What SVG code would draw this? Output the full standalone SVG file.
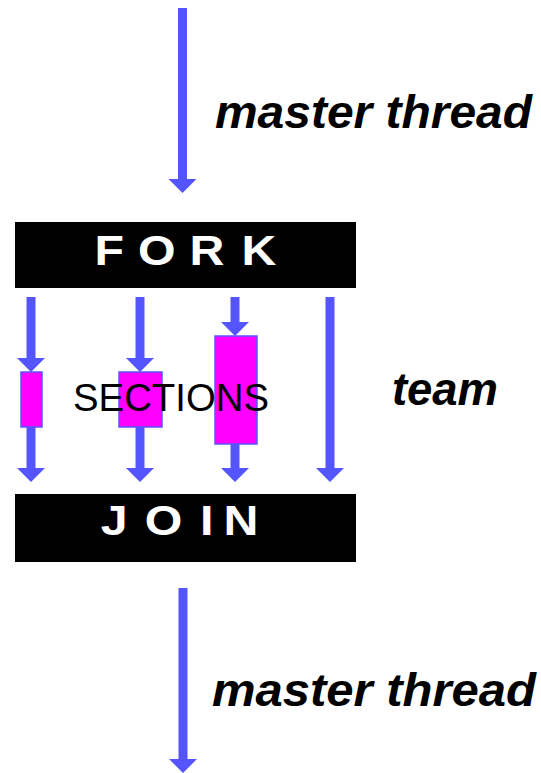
<svg xmlns="http://www.w3.org/2000/svg" width="541" height="773" viewBox="0 0 541 773">
  <style>
    .flow { stroke: #5555ff; stroke-width: 9; fill: none; marker-end: url(#head); }
    .bar { fill: #000000; }
    .bar-label { fill: #ffffff; font-family: "Liberation Sans", Arial, sans-serif; font-weight: bold; font-size: 42px; }
    .task { fill: #ff00ff; stroke: #5555ff; stroke-width: 1.5; }
    .note { fill: #000000; font-family: "Liberation Sans", Arial, sans-serif; font-weight: bold; font-style: italic; font-size: 46px; }
    .plain { fill: #000000; font-family: "Liberation Sans", Arial, sans-serif; font-size: 38px; }
  </style>
  <defs>
    <marker id="head" markerUnits="userSpaceOnUse" viewBox="0 0 14 28" refX="0" refY="14" markerWidth="14" markerHeight="28" orient="auto">
      <path d="M0,0 L14,14 L0,28 Z" fill="#5555ff"/>
    </marker>
  </defs>

  <rect width="541" height="773" fill="#ffffff"/>

  <!-- thread lines -->
  <g id="connectors">
    <path class="flow" d="M182.5,8 V179"/>
    <path class="flow" d="M31,297 V358"/>
    <path class="flow" d="M31,427 V468"/>
    <path class="flow" d="M140,297 V358"/>
    <path class="flow" d="M140,427 V468"/>
    <path class="flow" d="M235,297 V322"/>
    <path class="flow" d="M235,444 V468"/>
    <path class="flow" d="M330,297 V468"/>
    <path class="flow" d="M183,588 V759"/>
  </g>

  <g id="fork">
    <rect class="bar" x="15" y="222" width="341" height="66"/>
    <!-- wide-set capitals, stretched horizontally -->
    <text class="bar-label" transform="translate(94.5,265) scale(1.15,1)" x="0 37.8 82.6 127.8" y="0">FORK</text>
  </g>

  <g id="section-1">
    <rect class="task" x="21" y="372" width="21" height="55"/>
  </g>
  <g id="section-2">
    <rect class="task" x="119" y="372" width="43" height="55"/>
  </g>
  <g id="section-3">
    <rect class="task" x="215" y="336" width="42" height="108"/>
  </g>

  <g id="sections-label">
    <text class="plain" x="73" y="411" textLength="196" lengthAdjust="spacingAndGlyphs">SECTIONS</text>
  </g>

  <g id="join">
    <rect class="bar" x="15" y="494" width="341" height="68"/>
    <text class="bar-label" transform="translate(100.7,535) scale(1.15,1)" x="0 38.3 86.3 106.8" y="0">JOIN</text>
  </g>

  <g id="labels">
    <text class="note" x="215" y="128" textLength="317" lengthAdjust="spacingAndGlyphs">master thread</text>
    <text class="note" x="392" y="405" textLength="106" lengthAdjust="spacingAndGlyphs">team</text>
    <text class="note" x="212" y="706" textLength="324" lengthAdjust="spacingAndGlyphs">master thread</text>
  </g>
</svg>
